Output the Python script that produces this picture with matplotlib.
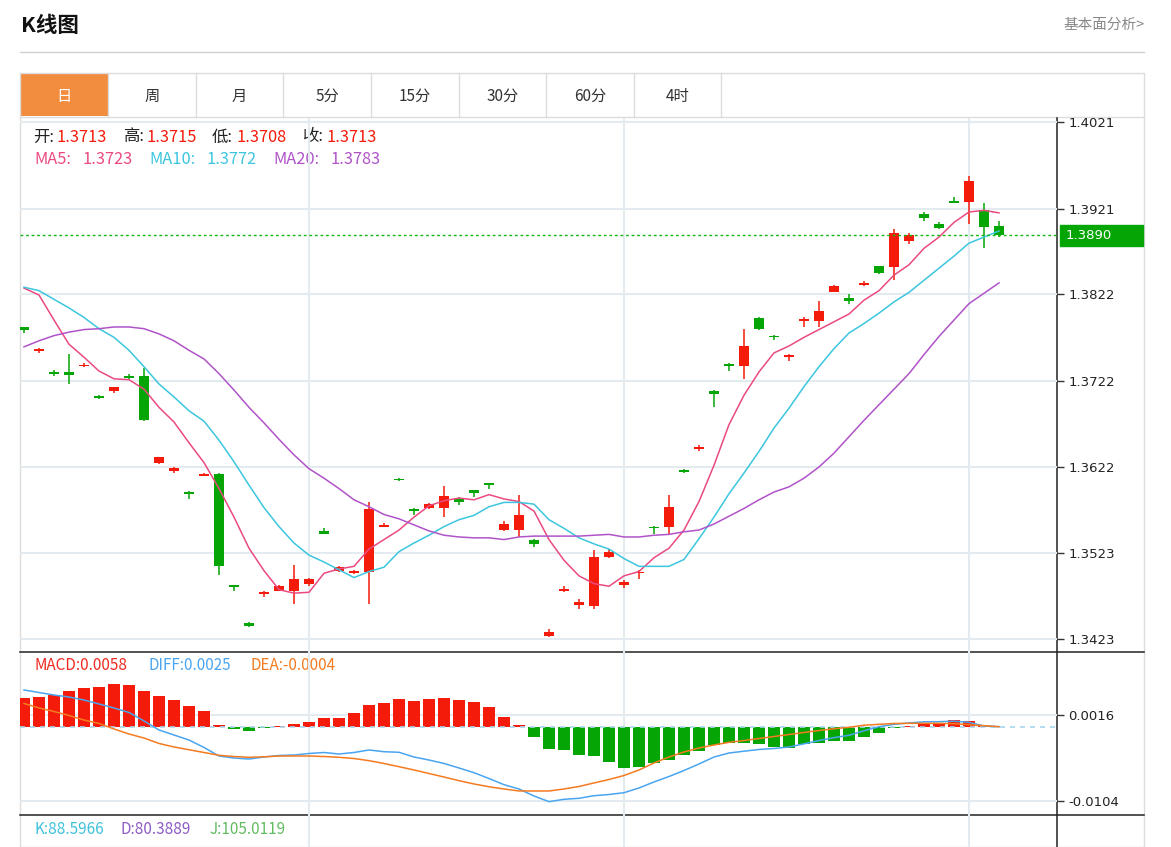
import matplotlib.pyplot as plt
from matplotlib.patches import Rectangle

W, H = 1171, 847

# candle data (daily)
opens = [1.3784, 1.3756, 1.3732, 1.3732, 1.3739, 1.3704, 1.3710, 1.3727, 1.3727, 1.3627,
         1.3617, 1.3593, 1.3612, 1.3614, 1.3485, 1.3441, 1.3475, 1.3479, 1.3479, 1.3487,
         1.3548, 1.3502, 1.3499, 1.3500, 1.3553, 1.3608, 1.3573, 1.3574, 1.3574, 1.3585,
         1.3595, 1.3603, 1.3549, 1.3549, 1.3538, 1.3426, 1.3478, 1.3462, 1.3461, 1.3518,
         1.3486, 1.3499, 1.3553, 1.3553, 1.3619, 1.3643, 1.3710, 1.3741, 1.3739, 1.3794,
         1.3774, 1.3749, 1.3791, 1.3791, 1.3824, 1.3817, 1.3832, 1.3854, 1.3853, 1.3884,
         1.3915, 1.3903, 1.3930, 1.3929, 1.3919, 1.3901]
closes = [1.3780, 1.3758, 1.3730, 1.3728, 1.3740, 1.3702, 1.3714, 1.3725, 1.3676, 1.3633,
          1.3621, 1.3591, 1.3614, 1.3507, 1.3483, 1.3438, 1.3477, 1.3484, 1.3492, 1.3492,
          1.3545, 1.3506, 1.3502, 1.3573, 1.3555, 1.3607, 1.3571, 1.3579, 1.3588, 1.3582,
          1.3592, 1.3601, 1.3556, 1.3567, 1.3533, 1.3431, 1.3481, 1.3466, 1.3518, 1.3524,
          1.3489, 1.3501, 1.3551, 1.3576, 1.3616, 1.3645, 1.3707, 1.3739, 1.3762, 1.3782,
          1.3772, 1.3752, 1.3793, 1.3803, 1.3831, 1.3814, 1.3835, 1.3847, 1.3893, 1.3890,
          1.3910, 1.3898, 1.3928, 1.3953, 1.3900, 1.3890]
highs = [1.3784, 1.3760, 1.3734, 1.3753, 1.3742, 1.3705, 1.3715, 1.3730, 1.3737, 1.3634,
         1.3622, 1.3594, 1.3615, 1.3615, 1.3486, 1.3443, 1.3479, 1.3485, 1.3508, 1.3494,
         1.3551, 1.3507, 1.3503, 1.3581, 1.3557, 1.3609, 1.3574, 1.3580, 1.3600, 1.3587,
         1.3595, 1.3604, 1.3559, 1.3589, 1.3539, 1.3434, 1.3484, 1.3469, 1.3526, 1.3527,
         1.3491, 1.3503, 1.3554, 1.3590, 1.3620, 1.3647, 1.3711, 1.3742, 1.3782, 1.3795,
         1.3775, 1.3753, 1.3795, 1.3814, 1.3832, 1.3822, 1.3837, 1.3854, 1.3897, 1.3893,
         1.3917, 1.3906, 1.3934, 1.3959, 1.3927, 1.3907]
lows = [1.3777, 1.3754, 1.3727, 1.3718, 1.3738, 1.3701, 1.3708, 1.3724, 1.3675, 1.3626,
        1.3615, 1.3585, 1.3611, 1.3497, 1.3479, 1.3437, 1.3472, 1.3478, 1.3464, 1.3484,
        1.3544, 1.3500, 1.3498, 1.3464, 1.3552, 1.3606, 1.3567, 1.3573, 1.3564, 1.3578,
        1.3587, 1.3597, 1.3548, 1.3541, 1.3529, 1.3425, 1.3477, 1.3458, 1.3458, 1.3517,
        1.3482, 1.3492, 1.3545, 1.3544, 1.3615, 1.3640, 1.3691, 1.3733, 1.3724, 1.3781,
        1.3769, 1.3745, 1.3784, 1.3784, 1.3824, 1.3811, 1.3831, 1.3845, 1.3838, 1.3880,
        1.3907, 1.3897, 1.3927, 1.3903, 1.3875, 1.3888]

ma5 = [1.3829, 1.3821, 1.3792, 1.3764, 1.3749, 1.3733, 1.3724, 1.3723, 1.3712, 1.3691,
       1.3674, 1.3650, 1.3627, 1.3597, 1.3564, 1.3528, 1.3502, 1.3480, 1.3476, 1.3477,
       1.3499, 1.3504, 1.3507, 1.3527, 1.3538, 1.3549, 1.3564, 1.3577, 1.3583, 1.3586,
       1.3584, 1.3590, 1.3585, 1.3582, 1.3571, 1.3538, 1.3514, 1.3496, 1.3487, 1.3484,
       1.3496, 1.3501, 1.3517, 1.3528, 1.3549, 1.3582, 1.3624, 1.3671, 1.3705, 1.3732,
       1.3754, 1.3762, 1.3772, 1.3781, 1.3790, 1.3799, 1.3815, 1.3826, 1.3844, 1.3856,
       1.3875, 1.3888, 1.3905, 1.3917, 1.3919, 1.3916]
ma10 = [1.3830, 1.3826, 1.3816, 1.3806, 1.3795, 1.3782, 1.3772, 1.3757, 1.3738, 1.3718,
        1.3703, 1.3687, 1.3675, 1.3653, 1.3628, 1.3601, 1.3575, 1.3553, 1.3534, 1.3520,
        1.3512, 1.3503, 1.3494, 1.3501, 1.3506, 1.3524, 1.3534, 1.3543, 1.3553, 1.3561,
        1.3566, 1.3576, 1.3581, 1.3581, 1.3579, 1.3561, 1.3551, 1.3540, 1.3533, 1.3527,
        1.3516, 1.3507, 1.3507, 1.3507, 1.3515, 1.3539, 1.3564, 1.3591, 1.3615, 1.3640,
        1.3667, 1.3690, 1.3715, 1.3738, 1.3759, 1.3777, 1.3788, 1.3800, 1.3813, 1.3824,
        1.3838, 1.3852, 1.3866, 1.3881, 1.3888, 1.3895]
ma20 = [1.3761, 1.3768, 1.3774, 1.3778, 1.3781, 1.3782, 1.3784, 1.3784, 1.3782, 1.3776,
        1.3768, 1.3757, 1.3747, 1.3730, 1.3711, 1.3691, 1.3673, 1.3654, 1.3636, 1.3620,
        1.3609, 1.3597, 1.3584, 1.3576, 1.3567, 1.3562, 1.3555, 1.3548, 1.3543, 1.3541,
        1.3540, 1.3540, 1.3538, 1.3541, 1.3542, 1.3542, 1.3542, 1.3542, 1.3543, 1.3544,
        1.3541, 1.3541, 1.3543, 1.3544, 1.3547, 1.3549, 1.3556, 1.3565, 1.3574, 1.3584,
        1.3593, 1.3599, 1.3609, 1.3622, 1.3638, 1.3657, 1.3676, 1.3694, 1.3712, 1.3730,
        1.3752, 1.3773, 1.3792, 1.3811, 1.3823, 1.3835]

macd = [0.00396, 0.00410, 0.00442, 0.00498, 0.00544, 0.00550, 0.00592, 0.00582, 0.00498, 0.00428,
        0.00372, 0.00293, 0.00215, 0.00028, -0.00032, -0.00064, -0.00014, 0.00010, 0.00033, 0.00066,
        0.00126, 0.00117, 0.00187, 0.00303, 0.00326, 0.00386, 0.00363, 0.00386, 0.00396, 0.00377,
        0.00349, 0.00271, 0.00135, 0.00024, -0.00148, -0.00315, -0.00325, -0.00395, -0.00409, -0.00488,
        -0.00572, -0.00558, -0.00502, -0.00465, -0.00399, -0.00335, -0.00255, -0.00232, -0.00223, -0.00241,
        -0.00279, -0.00293, -0.00246, -0.00232, -0.00200, -0.00200, -0.00140, -0.00084, -0.00014, 0.00010,
        0.00047, 0.00056, 0.00093, 0.00080, 0.00005, 0.00000]
diff = [0.00512, 0.00477, 0.00442, 0.00414, 0.00372, 0.00317, 0.00261, 0.00198, 0.00080, -0.00046,
        -0.00116, -0.00186, -0.00290, -0.00409, -0.00437, -0.00451, -0.00423, -0.00402, -0.00395, -0.00374,
        -0.00360, -0.00381, -0.00360, -0.00325, -0.00349, -0.00357, -0.00423, -0.00465, -0.00513, -0.00576,
        -0.00642, -0.00723, -0.00809, -0.00869, -0.00967, -0.01046, -0.01013, -0.00999, -0.00963, -0.00946,
        -0.00921, -0.00855, -0.00771, -0.00695, -0.00611, -0.00520, -0.00423, -0.00367, -0.00342, -0.00318,
        -0.00304, -0.00283, -0.00239, -0.00193, -0.00153, -0.00120, -0.00057, 0.00000, 0.00033, 0.00052,
        0.00068, 0.00070, 0.00077, 0.00061, 0.00010, 0.00000]
dea = [0.00324, 0.00261, 0.00212, 0.00156, 0.00093, 0.00045, -0.00032, -0.00102, -0.00158, -0.00234,
       -0.00283, -0.00322, -0.00360, -0.00399, -0.00416, -0.00427, -0.00420, -0.00409, -0.00409, -0.00409,
       -0.00416, -0.00427, -0.00444, -0.00474, -0.00513, -0.00558, -0.00604, -0.00653, -0.00702, -0.00753,
       -0.00799, -0.00838, -0.00869, -0.00897, -0.00897, -0.00897, -0.00869, -0.00834, -0.00785, -0.00737,
       -0.00681, -0.00604, -0.00506, -0.00423, -0.00353, -0.00297, -0.00255, -0.00218, -0.00193, -0.00165,
       -0.00137, -0.00109, -0.00081, -0.00053, -0.00029, -0.00008, 0.00020, 0.00033, 0.00045, 0.00047,
       0.00047, 0.00047, 0.00042, 0.00028, 0.00014, 0.00000]

price_ticks = [1.3423, 1.3523, 1.3622, 1.3722, 1.3822, 1.3921, 1.4021]
macd_ticks = [-0.0104, 0.0016]
grid_idx = [19, 40, 63]
tabs = ["日", "周", "月", "5分", "15分", "30分", "60分", "4时"]
tab_edges = [20, 108, 196, 283, 371, 459, 546, 634, 721]

RED = "#f51b0a"
GREEN = "#05a505"
GRID = "#e4ebf0"
C_MA5, C_MA10, C_MA20 = "#ea4a80", "#3cc6de", "#b053c9"

plt.rcParams["font.family"] = ["Noto Sans CJK SC", "DejaVu Sans"]


def px_rect(x0, y0, x1, y1):
    return [x0 / W, 1 - y1 / H, (x1 - x0) / W, (y1 - y0) / H]


fig = plt.figure(figsize=(W / 100, H / 100), dpi=100)
fig.patch.set_facecolor("white")

# background: header, tabs, frame
bg = fig.add_axes([0, 0, 1, 1])
bg.set_xlim(0, W)
bg.set_ylim(H, 0)
bg.axis("off")
bg.text(21, 26, "K线图", fontsize=15.5, fontweight="bold", color="#111", va="center")
bg.text(1145, 25, "基本面分析>", fontsize=10.5, color="#888", va="center", ha="right")
bg.plot([20, 1144], [52, 52], color="#cfcfcf", lw=1)
bg.add_patch(Rectangle((21, 74), 87, 42, color="#f28c3e", lw=0))
bg.plot([20, 1144, 1144, 20, 20], [73, 73, 847, 847, 73], color="#dcdcdc", lw=1)
bg.plot([20, 1144], [117, 117], color="#dcdcdc", lw=1)
for xe in tab_edges[1:]:
    bg.plot([xe, xe], [73, 117], color="#dcdcdc", lw=1)
for k, name in enumerate(tabs):
    cx = (tab_edges[k] + tab_edges[k + 1]) / 2
    bg.text(cx, 96, name, fontsize=11, ha="center", va="center",
            color="white" if k == 0 else "#333")
bg.plot([20, 1144], [652, 652], color="#222", lw=1.1)
bg.plot([20, 1144], [815, 815], color="#222", lw=1.1)
bg.plot([1057, 1057], [118, 847], color="#222", lw=1.1)

# header legend
row1 = [(33, "开:", "#222"), (57, "1.3713", RED), (123, "高:", "#222"), (147, "1.3715", RED),
        (212, "低:", "#222"), (236, "1.3708", RED), (302, "收:", "#222"), (326, "1.3713", RED)]
for x, s, c in row1:
    bg.text(x, 137, s, fontsize=11.8, color=c, va="center")
row2 = [(34, "MA5:", C_MA5), (82, "1.3723", C_MA5), (149, "MA10:", C_MA10), (207, "1.3772", C_MA10),
        (273, "MA20:", C_MA20), (331, "1.3783", C_MA20)]
for x, s, c in row2:
    bg.text(x, 160, s, fontsize=11.8, color=c, va="center")
row3 = [(34, "MACD:0.0058", "#ef2b22"), (149, "DIFF:0.0025", "#4aa5f0"), (250, "DEA:-0.0004", "#f47b20")]
for x, s, c in row3:
    bg.text(x, 666, s, fontsize=11, color=c, va="center")
row4 = [(34, "K:88.5966", "#3ec2dc"), (121, "D:80.3889", "#8e5cc6"), (209, "J:105.0119", "#62bb62")]
for x, s, c in row4:
    bg.text(x, 829, s, fontsize=11, color=c, va="center")

xs = list(range(len(closes)))
XLIM = (-0.267, 68.867)

# main candlestick panel
ax = fig.add_axes(px_rect(20, 118, 1057, 652), facecolor="none")
ax.set_xlim(*XLIM)
ax.set_ylim(1.34079, 1.40258)
for p in price_ticks:
    ax.axhline(p, color=GRID, lw=1.5, zorder=0)
for g in grid_idx:
    ax.axvline(g, color=GRID, lw=1.5, zorder=0)
for i in xs:
    o, c, hi, lo = opens[i], closes[i], highs[i], lows[i]
    col = RED if c >= o else GREEN
    ax.vlines(i, lo, hi, color=col, lw=1.1, zorder=2)
    ax.bar(i, max(abs(c - o), 0.00012), bottom=min(o, c), width=0.72, color=col, zorder=3)
ax.plot(xs, ma5, color=C_MA5, lw=1.1, zorder=4)
ax.plot(xs, ma10, color=C_MA10, lw=1.1, zorder=4)
ax.plot(xs, ma20, color=C_MA20, lw=1.1, zorder=4)
ax.axhline(closes[-1], color="#11b811", lw=1, ls=(0, (2, 2)), zorder=5)
ax.add_patch(Rectangle((1.0029, closes[-1] - 0.00118), 0.0800, 0.00236,
                       transform=ax.get_yaxis_transform(), color=GREEN, clip_on=False))
ax.text(1.0087, closes[-1], f"{closes[-1]:.4f}", transform=ax.get_yaxis_transform(),
        color="white", fontsize=9.5, va="center", family="DejaVu Sans")
for s in ax.spines.values():
    s.set_visible(False)
ax.set_xticks([])
ax.yaxis.tick_right()
ax.set_yticks(price_ticks)
ax.set_yticklabels([f"{p:.4f}" for p in price_ticks], family="DejaVu Sans")
ax.tick_params(axis="y", length=5, width=1, color="#333", labelsize=9.5, pad=3, labelcolor="#222")

# MACD panel
am = fig.add_axes(px_rect(20, 652, 1057, 815), facecolor="none")
am.set_xlim(*XLIM)
am.set_ylim(-0.01232, 0.01042)
for t in macd_ticks:
    am.axhline(t, color=GRID, lw=1.5, zorder=0)
for g in grid_idx:
    am.axvline(g, color=GRID, lw=1.5, zorder=0)
am.bar(xs, macd, width=0.75, color=[RED if v >= 0 else GREEN for v in macd], zorder=2)
am.axhline(0, color="#a9d6ee", lw=1.2, ls=(0, (3, 3)), zorder=3)
am.plot(xs, diff, color="#4aa5f0", lw=1.1, zorder=4)
am.plot(xs, dea, color="#f47b20", lw=1.1, zorder=4)
for s in am.spines.values():
    s.set_visible(False)
am.set_xticks([])
am.yaxis.tick_right()
am.set_yticks(macd_ticks)
am.set_yticklabels([f"{t:.4f}" for t in macd_ticks], family="DejaVu Sans")
am.tick_params(axis="y", length=5, width=1, color="#333", labelsize=9.5, pad=3, labelcolor="#222")

# KDJ panel (only its top strip is visible)
ak = fig.add_axes(px_rect(20, 815, 1057, 847), facecolor="none")
ak.set_xlim(*XLIM)
for g in grid_idx:
    ak.axvline(g, color=GRID, lw=1.5, zorder=0)
ak.axis("off")

fig.savefig("out.png", dpi=100)
